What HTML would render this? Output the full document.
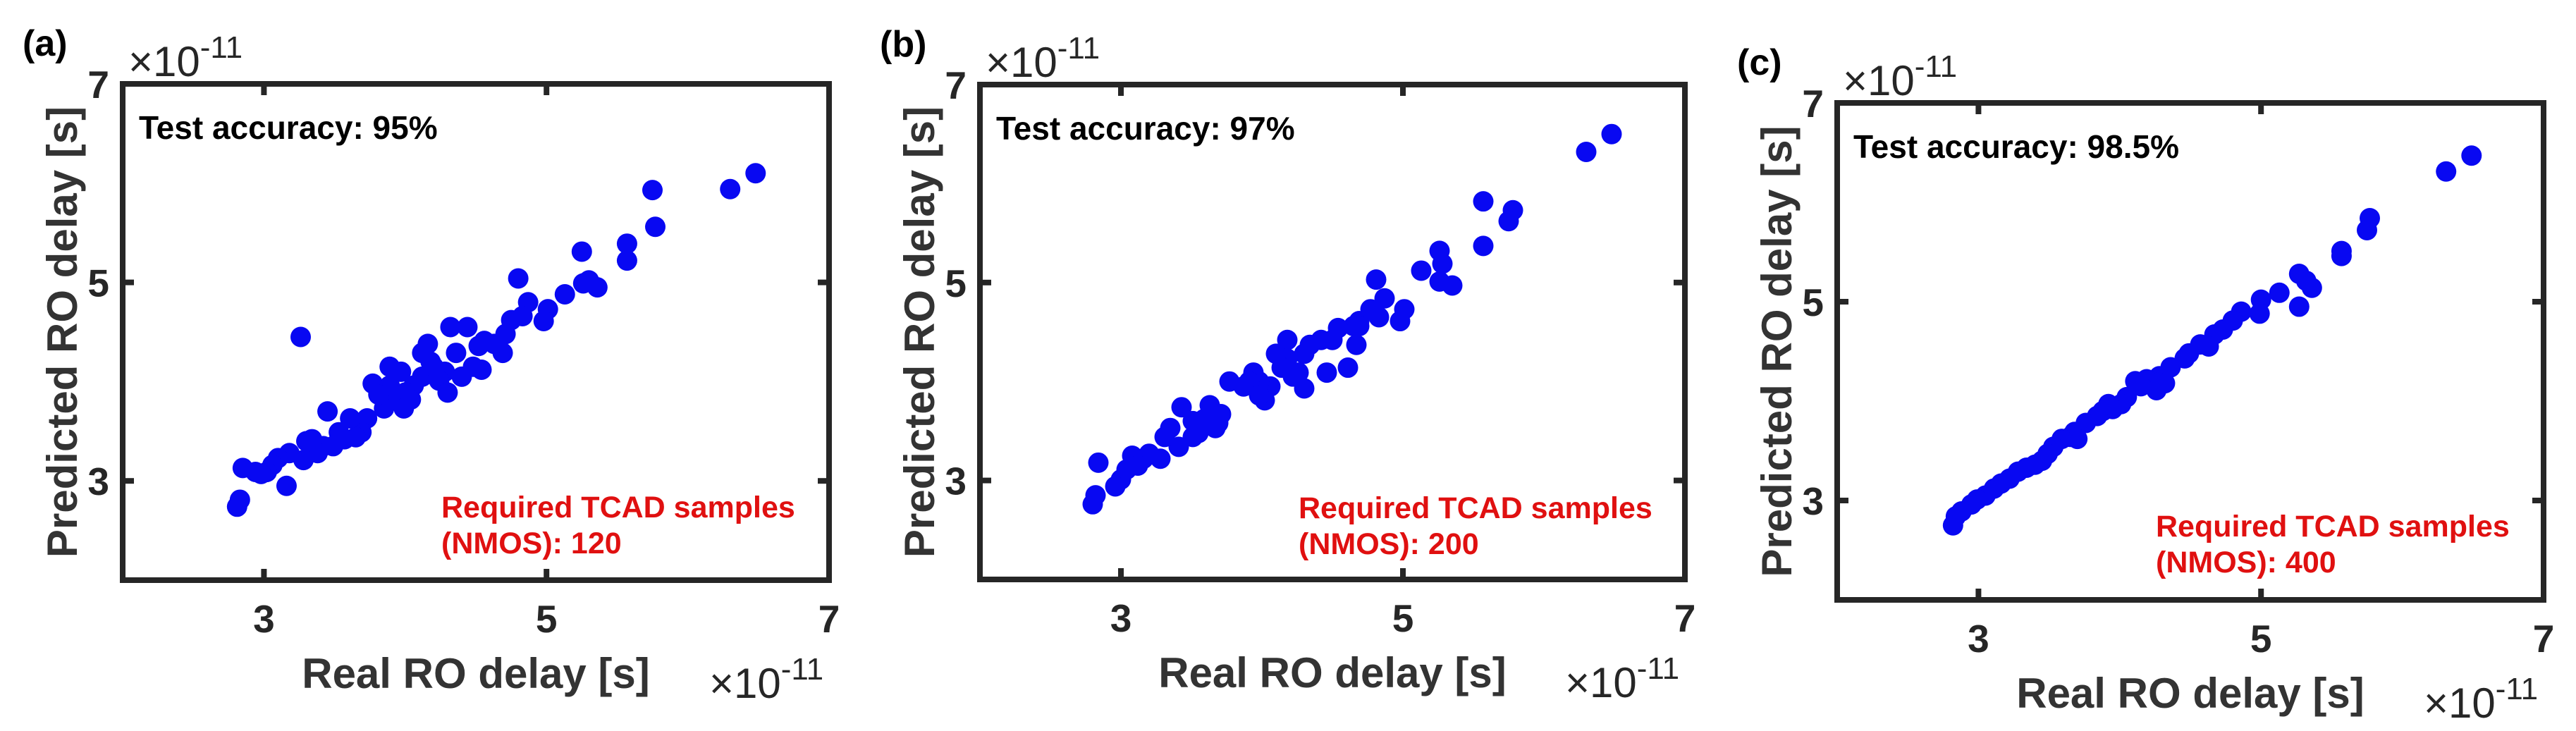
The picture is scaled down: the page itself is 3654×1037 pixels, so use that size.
<!DOCTYPE html>
<html><head><meta charset="utf-8">
<style>
html,body{margin:0;padding:0;background:#fff;}
svg{display:block;font-family:"Liberation Sans",Arial,sans-serif;}
</style></head>
<body>
<svg id="fig" width="3654" height="1037" viewBox="0 0 3654 1037" xmlns="http://www.w3.org/2000/svg"></svg>
<script>
// Panel (a) data (units of 1e-11 s)
const realA = [6.48,6.30,5.75,5.77,5.57,5.57,5.25,5.13,5.26,5.30,5.36,4.80,4.87,5.01,4.98,4.83,4.75,4.71,4.69,4.63,4.56,4.52,4.44,4.32,4.36,4.48,4.54,4.16,4.18,4.28,4.24,4.30,4.12,4.06,4.00,3.97,3.89,3.93,3.85,3.99,3.77,3.73,3.69,3.65,3.61,3.53,3.45,3.42,3.34,3.38,3.30,3.28,3.26,3.18,3.10,3.06,3.02,2.98,2.94,2.85,3.16,2.83,2.81,3.49,3.57,4.12,4.20,3.89,3.81,4.04,4.40];
const predA = [6.10,5.94,5.93,5.56,5.39,5.22,5.31,4.88,4.99,5.02,4.95,5.04,4.80,4.73,4.61,4.66,4.62,4.48,4.29,4.38,4.41,4.36,4.55,4.55,4.29,4.15,4.12,4.38,4.20,4.10,4.01,3.89,4.05,3.96,3.89,4.10,4.15,3.82,3.73,3.73,3.98,3.63,3.49,3.44,3.63,3.49,3.70,3.35,3.42,3.28,3.40,3.21,4.45,3.28,3.23,3.16,3.09,3.07,3.09,3.13,2.95,2.81,2.74,3.35,3.42,4.29,4.15,3.96,3.87,3.82,4.05];
// Panel (b) data
const realB = [6.48,6.30,5.57,5.78,5.75,5.57,5.26,5.28,5.13,5.26,5.35,4.81,4.87,5.01,4.98,4.83,4.77,4.69,4.65,4.67,4.61,4.46,4.54,4.50,4.42,4.34,4.30,4.18,4.18,4.14,4.26,4.30,4.06,4.02,3.98,3.94,3.91,3.87,3.77,3.71,3.67,3.63,3.59,3.51,3.43,3.41,3.35,3.31,3.28,3.20,3.16,3.08,3.04,3.00,2.96,2.84,2.82,2.80,3.55,3.69,4.10,3.98,4.22,3.51,3.12,4.69];
const predB = [6.50,6.32,5.82,5.73,5.62,5.37,5.32,5.19,5.12,5.01,4.97,5.03,4.84,4.73,4.61,4.65,4.73,4.61,4.56,4.37,4.14,4.09,4.54,4.42,4.42,4.37,4.28,4.42,4.23,4.14,4.09,3.93,3.95,3.81,4.00,4.09,4.00,3.95,4.00,3.67,3.53,3.76,3.62,3.44,3.74,3.34,3.53,3.44,3.22,3.27,3.22,3.25,3.11,3.01,2.94,3.18,2.85,2.76,3.48,3.58,4.28,3.86,4.05,3.60,3.15,4.56];
// Panel (c) data
const realC = [6.49,6.31,5.77,5.75,5.57,5.57,5.27,5.32,5.36,5.27,5.13,5.00,4.99,4.86,4.80,4.73,4.67,4.63,4.57,4.49,4.46,4.36,4.28,4.22,4.19,4.26,4.15,4.05,4.01,3.95,3.88,3.84,3.76,3.68,3.65,3.59,3.53,3.45,3.40,3.34,3.28,3.22,3.16,3.11,3.05,2.99,2.95,2.88,2.84,2.82,3.70,3.49,3.92,4.32,4.11];
const predC = [6.47,6.31,5.84,5.72,5.51,5.46,5.28,5.21,5.14,4.95,5.09,5.02,4.88,4.90,4.81,4.72,4.67,4.55,4.57,4.48,4.43,4.34,4.25,4.20,4.22,4.11,4.15,4.04,3.97,3.92,3.90,3.85,3.78,3.69,3.64,3.62,3.54,3.40,3.36,3.33,3.29,3.22,3.17,3.12,3.05,3.01,2.96,2.89,2.84,2.75,3.62,3.47,3.97,4.18,4.20];

const tickVals = [3,5,7];
const tickLabels = ['3','5','7'];
const panelLetters = ['(a)','(b)','(c)'];
const accuracyTexts = ['Test accuracy: 95%','Test accuracy: 97%','Test accuracy: 98.5%'];
const sampleCounts = ['120','200','400'];

const NS='http://www.w3.org/2000/svg';
const svg=document.getElementById('fig');
function mk(tag,attrs,parent){const e=document.createElementNS(NS,tag);for(const k in attrs)e.setAttribute(k,attrs[k]);(parent||svg).appendChild(e);return e;}

const panels=[
 {L:174,T:119,R:1176,B:823,xs:realA,ys:predA},
 {L:1390,T:120,R:2390,B:822,xs:realB,ys:predB},
 {L:2606,T:146,R:3608,B:851,xs:realC,ys:predC}
];
const dMin=2,dMax=7;

panels.forEach((p,i)=>{
  const g=mk('g',{});
  
  
  const sx=v=>p.L+(v-dMin)/(dMax-dMin)*(p.R-p.L);
  const sy=v=>p.B-(v-dMin)/(dMax-dMin)*(p.B-p.T);
  const pts=mk('g',{fill:'#0808f2'},g);
  
  
  p.xs.forEach((x,k)=>{
    const c=mk('circle',{cx:sx(x),cy:sy(p.ys[k]),r:14.5},pts);
    
    
  });
  const fr=mk('rect',{x:p.L,y:p.T,width:p.R-p.L,height:p.B-p.T,fill:'none',stroke:'#262626','stroke-width':8},g);
  
  
  tickVals.forEach((v,k)=>{
    const X=sx(v),Y=sy(v);
    if(v<dMax){
      mk('line',{x1:X,y1:p.B,x2:X,y2:p.B-16,stroke:'#262626','stroke-width':8},g);
      mk('line',{x1:X,y1:p.T,x2:X,y2:p.T+16,stroke:'#262626','stroke-width':8},g);
      mk('line',{x1:p.L,y1:Y,x2:p.L+16,y2:Y,stroke:'#262626','stroke-width':8},g);
      mk('line',{x1:p.R,y1:Y,x2:p.R-16,y2:Y,stroke:'#262626','stroke-width':8},g);
    }
    const tx=mk('text',{x:X,y:p.B+74,'text-anchor':'middle','font-size':55,'font-weight':'bold',fill:'#262626'},g);
    tx.textContent=tickLabels[k];
    
    
    const ty=mk('text',{x:p.L-19,y:Y+20,'text-anchor':'end','font-size':55,'font-weight':'bold',fill:'#262626'},g);
    ty.textContent=tickLabels[k];
    
    
  });
  const xt=mk('text',{x:(p.L+p.R)/2,y:p.B+153,'text-anchor':'middle','font-size':60,'font-weight':'bold',fill:'#333'},g);
  xt.textContent='Real RO delay [s]';
  
  
  const cy=(p.T+p.B)/2, cx=p.L-65;
  const yt=mk('text',{x:cx,y:cy,'text-anchor':'middle','font-size':60,'font-weight':'bold',fill:'#333',transform:`rotate(-90 ${cx} ${cy})`},g);
  yt.textContent='Predicted RO delay [s]';
  
  
  const e1=mk('text',{x:p.L+8,y:p.T-11,'font-size':60,fill:'#262626'},g);
  e1.innerHTML='×10<tspan font-size="44" dy="-26">-11</tspan>';
  
  
  const e2=mk('text',{x:p.R-170,y:p.B+167,'font-size':60,fill:'#262626'},g);
  e2.innerHTML='×10<tspan font-size="44" dy="-26">-11</tspan>';
  
  
  const pl=mk('text',{x:p.L-142,y:p.T-40,'font-size':52,'font-weight':'bold',fill:'#000'},g);
  pl.textContent=panelLetters[i];
  
  
  const ac=mk('text',{x:p.L+23,y:p.T+78,'font-size':46,'font-weight':'bold',fill:'#000'},g);
  ac.textContent=accuracyTexts[i];
  
  
  const r1=mk('text',{x:p.L+452,y:p.T+615,'font-size':43,'font-weight':'bold',fill:'#e01010'},g);
  r1.textContent='Required TCAD samples';
  
  
  const r2=mk('text',{x:p.L+452,y:p.T+666,'font-size':43,'font-weight':'bold',fill:'#e01010'},g);
  r2.textContent='(NMOS): '+sampleCounts[i];
  
  
});
</script>
</body></html>
